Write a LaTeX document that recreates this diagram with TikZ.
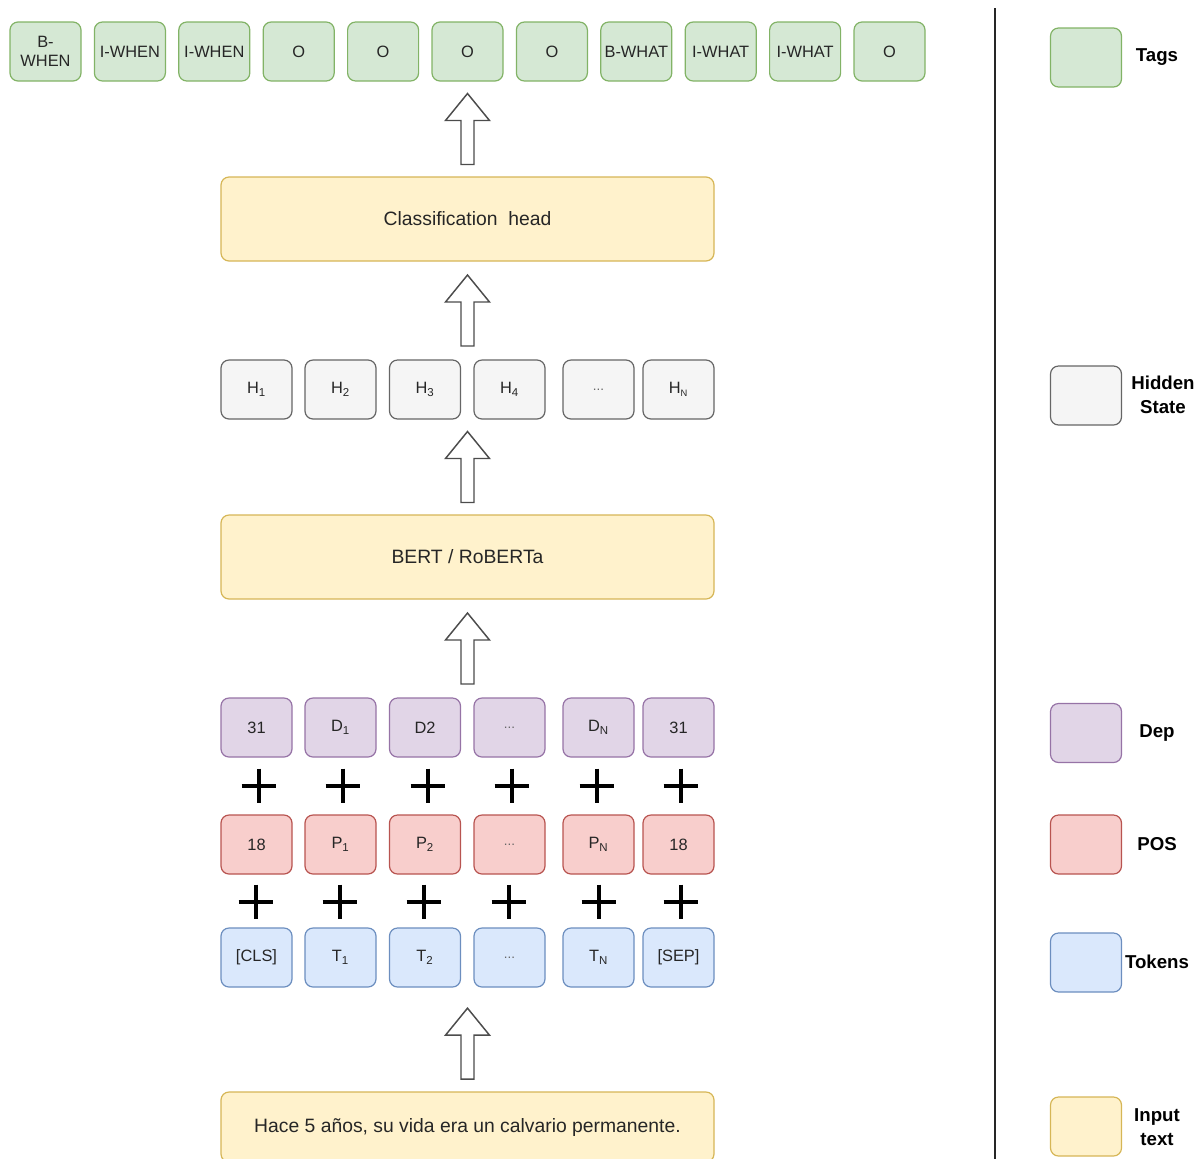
\documentclass[tikz,border=0pt]{standalone}
\usepackage{fontspec}
\setmainfont{Liberation Sans}
\usetikzlibrary{calc}

\definecolor{tagfill}{HTML}{D5E8D4}\definecolor{tagline}{HTML}{82B366}
\definecolor{hidfill}{HTML}{F5F5F5}\definecolor{hidline}{HTML}{666666}
\definecolor{txtfill}{HTML}{FFF2CC}\definecolor{txtline}{HTML}{D6B656}
\definecolor{depfill}{HTML}{E1D5E7}\definecolor{depline}{HTML}{9673A6}
\definecolor{posfill}{HTML}{F8CECC}\definecolor{posline}{HTML}{B85450}
\definecolor{tokfill}{HTML}{DAE8FC}\definecolor{tokline}{HTML}{6C8EBF}

\tikzset{
  cell/.style={draw, rounded corners=6pt, line width=0.9pt, minimum width=53.25pt,
    minimum height=44.25pt, inner sep=1pt, align=center, text=black!85,
    font=\fontsize{12.3}{14.5}\selectfont},
  tagcell/.style={cell, fill=tagfill, draw=tagline},
  hidcell/.style={cell, fill=hidfill, draw=hidline},
  depcell/.style={cell, fill=depfill, draw=depline},
  poscell/.style={cell, fill=posfill, draw=posline},
  tokcell/.style={cell, fill=tokfill, draw=tokline},
  wide/.style={cell, fill=txtfill, draw=txtline, minimum width=369.75pt,
    minimum height=63pt, font=\fontsize{14.5}{17}\selectfont},
  legend/.style={font=\bfseries\fontsize{14}{18}\selectfont, align=center},
  addsign/.style={minimum size=26pt, inner sep=0pt, fill=white,
    path picture={\draw[line width=3pt]
      (path picture bounding box.north) -- (path picture bounding box.south)
      (path picture bounding box.west) -- (path picture bounding box.east);}},
  blockarrow/.pic={\draw[draw=black!70, line width=1.1pt, fill=white, line join=miter]
    (-6.5,35.5) -- (-6.5,-8.5) -- (-22,-8.5) -- (0,-35.5) -- (22,-8.5)
    -- (6.5,-8.5) -- (6.5,35.5) -- cycle;}
}
\newcommand{\elide}{{\fontsize{10}{12}\selectfont\color{black!60}...}}
\newcommand{\lowidx}[1]{\textsubscript{#1}}

\begin{document}
\begin{tikzpicture}[x=0.75pt, y=-0.75pt]
  \useasboundingbox (0,0) rectangle (1203,1158);

  % output tags
  \foreach \lbl [count=\i from 0] in {{B-\\WHEN},I-WHEN,I-WHEN,O,O,O,O,B-WHAT,I-WHAT,I-WHAT,O}
    \node[tagcell] (tag\i) at ({45.5+84.4*\i},51.5) {\lbl};

  % model blocks
  \node[wide] (head) at (467.5,219) {Classification\ \ head};
  \node[wide] (bert) at (467.5,557) {BERT / RoBERTa};
  \node[wide, minimum height=52.5pt] (input) at (467.5,1127)
    {Hace 5 años, su vida era un calvario permanente.};

  % hidden states
  \foreach \x/\lbl [count=\i] in {256.5/H\lowidx{1}, 340.5/H\lowidx{2}, 425/H\lowidx{3},
      509.5/H\lowidx{4}, 598.5/\elide, 678.5/H\lowidx{\fontsize{7}{8}\selectfont N}}
    \node[hidcell] (h\i) at (\x,389.5) {\lbl};

  % embeddings: dep + pos + tokens
  \foreach \x/\lbl [count=\i] in {256.5/31, 340.5/D\lowidx{1}, 425/D2,
      509.5/\elide, 598.5/D\lowidx{N}, 678.5/31}
    \node[depcell] (d\i) at (\x,727.5) {\lbl};
  \foreach \x/\lbl [count=\i] in {256.5/18, 340.5/P\lowidx{1}, 425/P\lowidx{2},
      509.5/\elide, 598.5/P\lowidx{N}, 678.5/18}
    \node[poscell] (p\i) at (\x,844.5) {\lbl};
  \foreach \x/\lbl [count=\i] in {256.5/{[CLS]}, 340.5/T\lowidx{1}, 425/T\lowidx{2},
      509.5/\elide, 598.5/T\lowidx{N}, 678.5/{[SEP]}}
    \node[tokcell] (t\i) at (\x,957.5) {\lbl};

  \foreach \x [count=\i] in {259,343,428,512,597,681}
    \node[addsign] (pa\i) at (\x,786) {};
  \foreach \x [count=\i] in {256,340,424,509,599,681}
    \node[addsign] (pb\i) at (\x,902) {};

  % block arrows between the stages
  \pic at ($(head.north)!0.5!(tag5.south)$) {blockarrow};
  \pic at ($(head.south)!0.5!(h3.north -| head.south)$) {blockarrow};
  \pic at ($(bert.north)!0.5!(bert.north |- h3.south)$) {blockarrow};
  \pic at ($(bert.south)!0.5!(bert.south |- d3.north)$) {blockarrow};
  \pic at ($(input.north)!0.46!(input.north |- t3.south)$) {blockarrow};

  % separator
  \draw[line width=1.5pt, black!85] (995,8) -- (995,1160);

  % legend
  \node[tagcell] (ktag) at (1086,57.5) {};
  \node[legend] (ltag) at (1157,57) {Tags};
  \node[hidcell] (khid) at (1086,395.5) {};
  \node[legend] (lhid) at (1163,395) {Hidden\\State};
  \node[depcell] (kdep) at (1086,733) {};
  \node[legend] (ldep) at (1157,733) {Dep};
  \node[poscell] (kpos) at (1086,844.5) {};
  \node[legend] (lpos) at (1157,844) {POS};
  \node[tokcell] (ktok) at (1086,962.5) {};
  \node[legend] (ltok) at (1157,962) {Tokens};
  \node[cell, fill=txtfill, draw=txtline] (ktxt) at (1086,1126.5) {};
  \node[legend] (ltxt) at (1157,1127) {Input\\text};
\end{tikzpicture}
\end{document}
